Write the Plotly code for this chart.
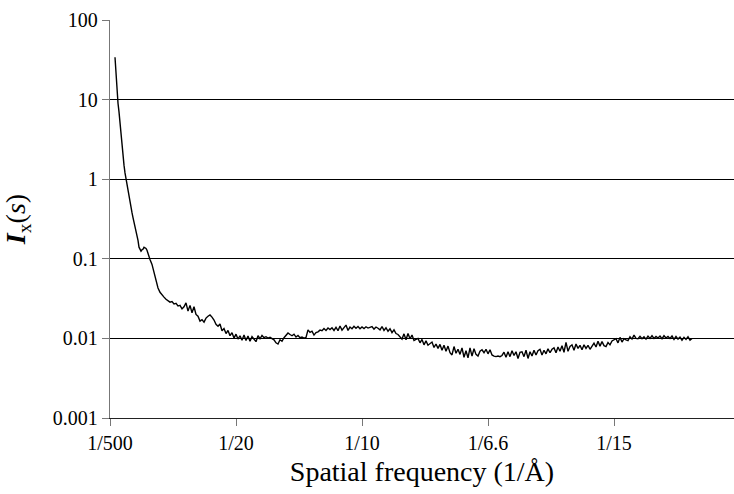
import numpy as np
import plotly.graph_objects as go

# Tick labels (x axis positioned in tick units: 0..4)
tick_pos = [0, 1, 2, 3, 4]
tick_text = ["1/500", "1/20", "1/10", "1/6.6", "1/15"]
y_ticks = [0.001, 0.01, 0.1, 1, 10, 100]
y_text = ["0.001", "0.01", "0.1", "1", "10", "100"]

# Sampling of the measured spectrum (tick units)
steep_start, steep_step = 5 / 126, 1 / 126
tail_start, tail_step = 42 / 126, 2 / 126

# Intensity values
steep_vals = [34, 20, 12, 9, 7, 5.0, 3.5, 2.6, 2.0, 1.5, 1.2, 1.0, 0.85, 0.7, 0.6,
              0.5, 0.44, 0.38, 0.33, 0.29, 0.26, 0.23, 0.2, 0.17, 0.14, 0.13,
              0.125, 0.13, 0.132, 0.14, 0.138, 0.135, 0.128, 0.115, 0.105, 0.098]
tail_vals = [
    0.085, 0.068, 0.055, 0.043, 0.038, 0.035, 0.033, 0.031, 0.030, 0.0285,
    0.029, 0.027, 0.0275, 0.0255, 0.026, 0.0235, 0.025, 0.028, 0.022, 0.026,
    0.021, 0.025, 0.020, 0.019, 0.0165, 0.0172, 0.016, 0.018, 0.019, 0.0197,
    0.0185, 0.017, 0.0150, 0.0142, 0.0152, 0.0125, 0.0133, 0.0115, 0.0126, 0.0108,
    0.0118, 0.0101, 0.0113, 0.0098, 0.0108, 0.0095, 0.0110, 0.0094, 0.0107, 0.0092,
    0.0105, 0.0097, 0.0091, 0.0108, 0.0099, 0.0109, 0.0102, 0.0105, 0.0101, 0.0103,
    0.0100, 0.0096, 0.0088, 0.0085, 0.0096, 0.0092, 0.0102, 0.0108, 0.0117, 0.0112,
    0.0108, 0.0113, 0.0104, 0.0109, 0.0102, 0.0104, 0.0101, 0.0103, 0.0128, 0.0119,
    0.0123, 0.0110, 0.0118, 0.0121, 0.0127, 0.0125, 0.0133, 0.0126, 0.0135, 0.0129,
    0.0136, 0.0126, 0.0138, 0.0125, 0.0143, 0.0127, 0.0139, 0.0147, 0.0126, 0.0139,
    0.0132, 0.0142, 0.0134, 0.0141, 0.0132, 0.0139, 0.0133, 0.0140, 0.0135, 0.0138,
    0.0141, 0.0131, 0.0139, 0.0134, 0.0128, 0.0141, 0.0126, 0.0136, 0.0123, 0.0132,
    0.0118, 0.0128, 0.0115, 0.0112, 0.0106, 0.0098, 0.0114, 0.0096, 0.0115, 0.0099,
    0.0110, 0.0094, 0.0097, 0.0100, 0.0088, 0.0097, 0.0083, 0.0093, 0.0082, 0.0085,
    0.0090, 0.0077, 0.0085, 0.0075, 0.0084, 0.0071, 0.0082, 0.0069, 0.0080, 0.0066,
    0.0062, 0.0079, 0.0065, 0.0073, 0.0063, 0.0076, 0.0058, 0.0070, 0.0057, 0.0076,
    0.0060, 0.0074, 0.0063, 0.0060, 0.0069, 0.0072, 0.0066, 0.0073, 0.0064, 0.0072,
    0.0062, 0.0060, 0.0059, 0.0060, 0.0059, 0.0061, 0.0067, 0.0058, 0.0068, 0.0059,
    0.0070, 0.0061, 0.0068, 0.0056, 0.0067, 0.0068, 0.0059, 0.0071, 0.0056, 0.0068,
    0.0060, 0.0071, 0.0062, 0.0070, 0.0073, 0.0062, 0.0071, 0.0064, 0.0074, 0.0066,
    0.0073, 0.0076, 0.0066, 0.0078, 0.0069, 0.0081, 0.0067, 0.0089, 0.0069, 0.0079,
    0.0083, 0.0071, 0.0085, 0.0075, 0.0082, 0.0072, 0.0083, 0.0075, 0.0082, 0.0073,
    0.0079, 0.0087, 0.0078, 0.0092, 0.0080, 0.0091, 0.0081, 0.0079, 0.0089, 0.0083,
    0.0093, 0.0096, 0.0099, 0.0088, 0.0103, 0.0090, 0.0099, 0.0096, 0.0094, 0.0105,
    0.0098, 0.0110, 0.0100, 0.0099, 0.0106, 0.0099, 0.0105, 0.0098, 0.0107, 0.0100,
    0.0108, 0.0100, 0.0106, 0.0101, 0.0107, 0.0099, 0.0108, 0.0101, 0.0106, 0.0100,
    0.0107, 0.0097, 0.0106, 0.0098, 0.0104, 0.0095, 0.0103, 0.0097, 0.0105, 0.0095,
    0.0100,
]

x_steep = steep_start + steep_step * np.arange(len(steep_vals))
x_tail = tail_start + tail_step * np.arange(len(tail_vals))
x = np.concatenate([x_steep, x_tail])
y = np.array(steep_vals + tail_vals)

fig = go.Figure()
fig.add_trace(go.Scatter(x=x, y=y, mode="lines",
                         line=dict(color="black", width=1.4), showlegend=False))

font = "Times New Roman, Liberation Serif, serif"
fig.update_layout(
    width=734, height=494,
    margin=dict(l=110, r=0, t=20, b=76),
    paper_bgcolor="white", plot_bgcolor="white",
    font=dict(family=font, color="black", size=20),
    xaxis=dict(
        range=[0, 624 / 126], tickvals=tick_pos, ticktext=tick_text,
        showgrid=False, zeroline=False,
        showline=True, linecolor="#222", linewidth=1.3,
        ticks="outside", ticklen=7, tickcolor="#777", tickwidth=1.3,
        tickfont=dict(size=20, family=font, color="black"),
        title=dict(text="Spatial frequency (1/Å)", font=dict(size=28, family=font, color="black"), standoff=8),
    ),
    yaxis=dict(
        type="log", range=[-3, 2], tickvals=y_ticks, ticktext=y_text,
        showgrid=True, gridcolor="black", gridwidth=1.2,
        zeroline=False,
        showline=True, linecolor="#777", linewidth=1.3,
        ticks="outside", ticklen=7, tickcolor="#777", tickwidth=1.3,
        tickfont=dict(size=20, family=font, color="black"),
        title=dict(text="<b><i>I</i></b><sub>x</sub>(<i>s</i>)", font=dict(size=28, family=font, color="black"), standoff=22),
    ),
)

fig.write_html("out.html")
